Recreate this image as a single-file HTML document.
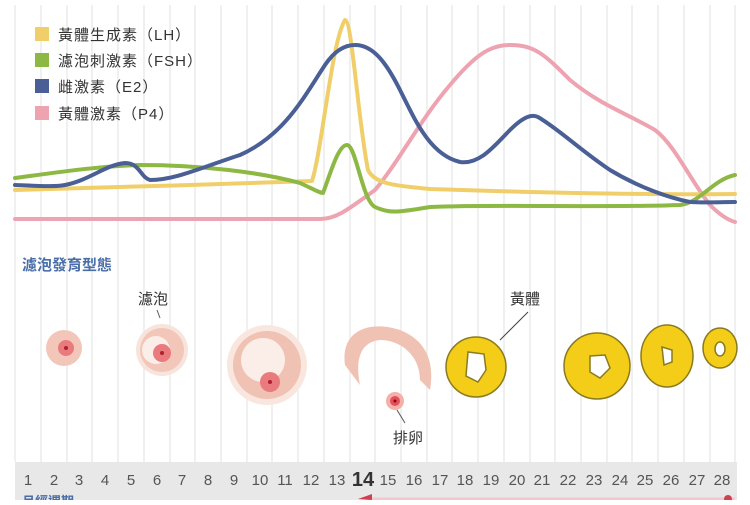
<!DOCTYPE html>
<html><head><meta charset="utf-8"><style>
html,body{margin:0;padding:0;background:#fff;}
body{width:750px;height:500px;overflow:hidden;font-family:"Liberation Sans","Noto Sans CJK TC",sans-serif;}
</style></head><body>
<svg width="750" height="500" viewBox="0 0 750 500" xmlns="http://www.w3.org/2000/svg" font-family="Liberation Sans, Noto Sans CJK TC, sans-serif">
<rect width="750" height="500" fill="#fff"/>
<g stroke="#ececec" stroke-width="1.5">
<line x1="15" y1="5" x2="15" y2="462"/><line x1="41" y1="5" x2="41" y2="462"/><line x1="67" y1="5" x2="67" y2="462"/><line x1="92" y1="5" x2="92" y2="462"/><line x1="118" y1="5" x2="118" y2="462"/><line x1="144" y1="5" x2="144" y2="462"/><line x1="170" y1="5" x2="170" y2="462"/><line x1="195" y1="5" x2="195" y2="462"/><line x1="221" y1="5" x2="221" y2="462"/><line x1="247" y1="5" x2="247" y2="462"/><line x1="272" y1="5" x2="272" y2="462"/><line x1="298" y1="5" x2="298" y2="462"/><line x1="324" y1="5" x2="324" y2="462"/><line x1="350" y1="5" x2="350" y2="462"/><line x1="375" y1="5" x2="375" y2="462"/><line x1="401" y1="5" x2="401" y2="462"/><line x1="427" y1="5" x2="427" y2="462"/><line x1="452" y1="5" x2="452" y2="462"/><line x1="478" y1="5" x2="478" y2="462"/><line x1="504" y1="5" x2="504" y2="462"/><line x1="530" y1="5" x2="530" y2="462"/><line x1="555" y1="5" x2="555" y2="462"/><line x1="581" y1="5" x2="581" y2="462"/><line x1="607" y1="5" x2="607" y2="462"/><line x1="632" y1="5" x2="632" y2="462"/><line x1="658" y1="5" x2="658" y2="462"/><line x1="684" y1="5" x2="684" y2="462"/><line x1="710" y1="5" x2="710" y2="462"/><line x1="735" y1="5" x2="735" y2="462"/>
</g>
<!-- curves -->
<g fill="none" stroke-width="4" stroke-linecap="round" stroke-linejoin="round">
<path stroke="#eea3b0" d="M15,219 L320,219 C335,219 345,212 375,190 C400,160 420,120 450,85 C475,55 490,45 510,45 C535,45 545,55 570,80 C600,105 630,115 655,130 C675,145 690,180 710,205 C720,215 728,220 735,222"/>
<path stroke="#f0cf6a" d="M15,190 C100,188 220,184 312,181 C322,150 332,40 345,20 C352,20 358,120 368,170 C375,185 400,186 430,189 C520,192 640,195 735,194"/>
<path stroke="#8db843" d="M15,178 C60,172 100,166 140,165 C200,165 260,172 300,183 C315,190 320,193 323,193 C330,175 338,145 347,145 C356,145 362,200 375,207 C390,214 400,212 430,207 C500,204 600,208 680,205 C700,203 712,180 735,175"/>
<path stroke="#4a5f95" d="M15,185 C40,186 55,187 65,185 C90,180 105,165 125,163 C140,163 140,177 150,180 C175,180 200,168 240,155 C285,135 305,95 325,65 C335,50 345,45 355,45 C372,45 385,60 400,90 C415,120 430,155 460,162 C480,165 495,145 510,130 C520,120 530,113 538,117 C560,130 580,150 610,170 C640,188 670,198 690,202 C705,203 720,202 735,202"/>
</g>
<!-- legend -->
<g font-size="15" fill="#333" letter-spacing="1">
<rect x="35" y="27" width="14" height="14" fill="#f0cf6a"/><text x="58" y="40">黃體生成素（LH）</text>
<rect x="35" y="53" width="14" height="14" fill="#8db843"/><text x="58" y="66">濾泡刺激素（FSH）</text>
<rect x="35" y="79" width="14" height="14" fill="#4a5f95"/><text x="58" y="92">雌激素（E2）</text>
<rect x="35" y="106" width="14" height="14" fill="#eea3b0"/><text x="58" y="119">黃體激素（P4）</text>
</g>
<text x="22" y="270" font-size="15" fill="#4a6ea8" font-weight="bold">濾泡發育型態</text>
<text x="138" y="304" font-size="15" fill="#333">濾泡</text>
<line x1="157" y1="310" x2="160" y2="318" stroke="#555" stroke-width="1"/>
<!-- follicles -->
<circle cx="64" cy="348" r="18" fill="#f2c6b8"/><circle cx="66" cy="348" r="8" fill="#e97a7e"/><circle cx="66" cy="348" r="2" fill="#b02030"/>
<circle cx="162" cy="350" r="26" fill="#f7e4dc"/><circle cx="162" cy="350" r="22" fill="#f2c6b8"/><circle cx="156" cy="350" r="14" fill="#fbeee8"/><circle cx="162" cy="353" r="9" fill="#e97a7e"/><circle cx="162" cy="353" r="2" fill="#b02030"/>
<circle cx="267" cy="365" r="40" fill="#f9e7df"/><circle cx="267" cy="365" r="34" fill="#f0c2b3"/><circle cx="263" cy="360" r="22" fill="#fbeee8"/><circle cx="270" cy="382" r="10" fill="#e97a7e"/><circle cx="270" cy="382" r="2" fill="#b02030"/>
<path d="M345,365 C340,330 370,320 400,330 C425,340 435,360 430,390 L420,380 C420,355 400,340 380,340 C360,342 355,360 360,385 Z" fill="#f0c2b3"/>
<circle cx="395" cy="401" r="9" fill="#f5b0a8"/><circle cx="395" cy="401" r="5" fill="#e05060"/><circle cx="395" cy="401" r="1.5" fill="#900"/>
<line x1="397" y1="410" x2="405" y2="423" stroke="#555" stroke-width="1"/>
<text x="393" y="443" font-size="15" fill="#333">排卵</text>
<text x="510" y="304" font-size="15" fill="#333">黃體</text>
<line x1="528" y1="312" x2="500" y2="340" stroke="#444" stroke-width="1"/>
<g stroke="#8a7a20" stroke-width="1.5">
<circle cx="476" cy="367" r="30" fill="#f4cd18"/><path d="M468,352 L484,354 L486,370 L478,382 L466,376 Z" fill="#fff"/>
<circle cx="597" cy="366" r="33" fill="#f4cd18"/><path d="M590,356 L605,355 L610,368 L600,378 L590,372 Z" fill="#fff"/>
<ellipse cx="667" cy="356" rx="26" ry="31" fill="#f4cd18"/><path d="M662,347 L672,350 L672,362 L664,365 Z" fill="#fff"/>
<ellipse cx="720" cy="348" rx="17" ry="20" fill="#f4cd18"/><ellipse cx="720" cy="349" rx="5" ry="7" fill="#fff"/>
</g>
<!-- bottom band -->
<rect x="15" y="462" width="722" height="38" fill="#e8e8e8"/>
<g font-size="15" fill="#555" text-anchor="middle">
<text x="28" y="485">1</text><text x="54" y="485">2</text><text x="79" y="485">3</text><text x="105" y="485">4</text><text x="131" y="485">5</text><text x="157" y="485">6</text><text x="182" y="485">7</text><text x="208" y="485">8</text><text x="234" y="485">9</text><text x="260" y="485">10</text><text x="285" y="485">11</text><text x="311" y="485">12</text><text x="337" y="485">13</text><text x="363" y="486" font-size="20" font-weight="bold" fill="#333">14</text><text x="388" y="485">15</text><text x="414" y="485">16</text><text x="440" y="485">17</text><text x="465" y="485">18</text><text x="491" y="485">19</text><text x="517" y="485">20</text><text x="542" y="485">21</text><text x="568" y="485">22</text><text x="594" y="485">23</text><text x="620" y="485">24</text><text x="645" y="485">25</text><text x="671" y="485">26</text><text x="697" y="485">27</text><text x="722" y="485">28</text>
</g>
<text x="22" y="506" font-size="13" fill="#4a6ea8" font-weight="bold">月經週期</text>
<line x1="365" y1="499" x2="735" y2="499" stroke="#f2c8cc" stroke-width="3"/>
<path d="M358,499 L372,494 L372,500 Z" fill="#d04050"/>
<circle cx="728" cy="499" r="4" fill="#d04050"/>
</svg>
</body></html>
